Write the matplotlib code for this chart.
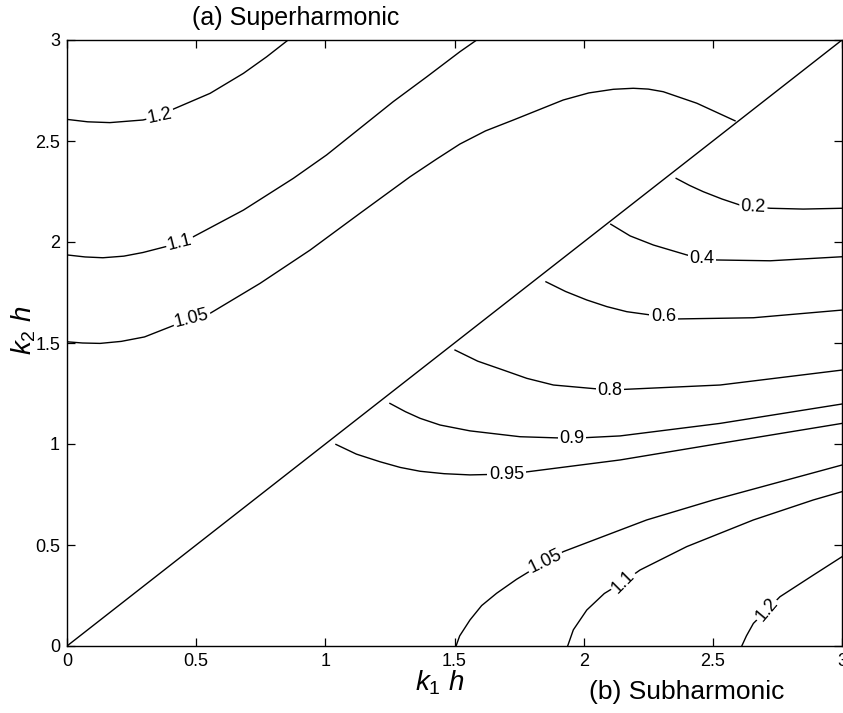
import matplotlib
matplotlib.use("Agg")
import matplotlib.pyplot as plt

plt.rcParams["font.family"] = ["Liberation Sans", "DejaVu Sans"]
plt.rcParams["mathtext.fontset"] = "custom"
plt.rcParams["mathtext.it"] = "Liberation Sans:italic"
plt.rcParams["mathtext.rm"] = "Liberation Sans"

# diagonal k1 = k2 separating the two regions
diag_x = [0, 3]
diag_y = [0, 3]

# superharmonic contours (above the diagonal)
sup_120_x = [0.0, 0.08, 0.166, 0.294, 0.36, 0.41, 0.554, 0.683, 0.773, 0.856]
sup_120_y = [2.607, 2.595, 2.591, 2.604, 2.624, 2.657, 2.736, 2.835, 2.917, 3.0]
sup_110_x = [0.0, 0.07, 0.139, 0.22, 0.294, 0.437, 0.489, 0.683, 0.876, 1.005, 1.134, 1.263, 1.393, 1.521, 1.586]
sup_110_y = [1.936, 1.926, 1.922, 1.93, 1.948, 1.995, 2.026, 2.158, 2.315, 2.431, 2.563, 2.695, 2.818, 2.942, 3.0]
sup_105_x = [0.0, 0.06, 0.128, 0.21, 0.3, 0.483, 0.554, 0.747, 0.941, 1.134, 1.328, 1.43, 1.521, 1.62,
             1.728, 1.921, 2.02, 2.115, 2.192, 2.25, 2.308, 2.438, 2.586]
sup_105_y = [1.506, 1.5, 1.498, 1.508, 1.53, 1.622, 1.647, 1.795, 1.96, 2.142, 2.323, 2.41, 2.485, 2.55,
             2.604, 2.703, 2.738, 2.756, 2.761, 2.757, 2.744, 2.687, 2.6]

# subharmonic contours (below the diagonal)
sub_020_x = [2.358, 2.41, 2.463, 2.535, 2.605, 2.657, 2.722, 2.85, 3.0]
sub_020_y = [2.315, 2.28, 2.249, 2.213, 2.183, 2.175, 2.167, 2.163, 2.167]
sub_040_x = [2.105, 2.18, 2.27, 2.399, 2.457, 2.515, 2.722, 3.0]
sub_040_y = [2.088, 2.03, 1.985, 1.936, 1.919, 1.911, 1.907, 1.927]
sub_060_x = [1.854, 1.93, 2.012, 2.09, 2.167, 2.309, 2.36, 2.657, 3.0]
sub_060_y = [1.803, 1.755, 1.713, 1.68, 1.655, 1.63, 1.619, 1.625, 1.663]
sub_080_x = [1.502, 1.59, 1.689, 1.78, 1.883, 2.102, 2.167, 2.528, 3.0]
sub_080_y = [1.465, 1.41, 1.366, 1.325, 1.292, 1.267, 1.271, 1.292, 1.366]
sub_090_x = [1.25, 1.31, 1.367, 1.444, 1.56, 1.754, 1.954, 2.141, 2.528, 3.0]
sub_090_y = [1.201, 1.16, 1.127, 1.094, 1.065, 1.036, 1.028, 1.04, 1.102, 1.198]
sub_095_x = [1.041, 1.12, 1.212, 1.29, 1.367, 1.46, 1.56, 1.702, 1.78, 2.141, 2.528, 3.0]
sub_095_y = [0.998, 0.95, 0.912, 0.884, 0.865, 0.853, 0.847, 0.851, 0.862, 0.921, 1.003, 1.102]
sub_105_x = [1.506, 1.52, 1.56, 1.605, 1.663, 1.74, 1.851, 1.921, 2.141, 2.244, 2.502, 3.0]
sub_105_y = [0.0, 0.05, 0.129, 0.2, 0.261, 0.33, 0.417, 0.467, 0.574, 0.624, 0.723, 0.896]
sub_110_x = [1.938, 1.96, 2.012, 2.08, 2.154, 2.218, 2.399, 2.657, 2.889, 3.0]
sub_110_y = [0.0, 0.08, 0.178, 0.26, 0.318, 0.376, 0.492, 0.624, 0.723, 0.764]
sub_120_x = [2.612, 2.63, 2.657, 2.709, 2.76, 2.889, 3.0]
sub_120_y = [0.0, 0.05, 0.112, 0.178, 0.244, 0.351, 0.442]

# contour labels: text, position, rotation
label_text = ["1.2", "1.1", "1.05", "0.2", "0.4", "0.6", "0.8", "0.9", "0.95", "1.05", "1.1", "1.2"]
label_x = [0.36, 0.437, 0.483, 2.657, 2.457, 2.309, 2.102, 1.954, 1.702, 1.851, 2.154, 2.709]
label_y = [2.624, 1.995, 1.622, 2.175, 1.919, 1.63, 1.267, 1.028, 0.851, 0.417, 0.318, 0.178]
label_rot = [12, 14, 14, -2, 0, 0, 0, 0, 0, 26, 45, 50]

ticks = [0, 0.5, 1, 1.5, 2, 2.5, 3]
tick_labels = ["0", "0.5", "1", "1.5", "2", "2.5", "3"]

fig = plt.figure(figsize=(8.43, 7.13), dpi=100)
ax = fig.add_axes([67 / 843, 1 - 646 / 713, 775 / 843, 606 / 713])

lines = [
    (diag_x, diag_y),
    (sup_120_x, sup_120_y), (sup_110_x, sup_110_y), (sup_105_x, sup_105_y),
    (sub_020_x, sub_020_y), (sub_040_x, sub_040_y), (sub_060_x, sub_060_y),
    (sub_080_x, sub_080_y), (sub_090_x, sub_090_y), (sub_095_x, sub_095_y),
    (sub_105_x, sub_105_y), (sub_110_x, sub_110_y), (sub_120_x, sub_120_y),
]
for xs, ys in lines:
    ax.plot(xs, ys, color="black", lw=1.0, solid_joinstyle="round")

for t, x, y, r in zip(label_text, label_x, label_y, label_rot):
    ax.text(x, y, t, fontsize=13, rotation=r, ha="center", va="center",
            rotation_mode="anchor", zorder=5,
            bbox=dict(fc="white", ec="none", pad=1.2))

ax.set_xlim(0, 3)
ax.set_ylim(0, 3)
ax.set_xticks(ticks)
ax.set_xticklabels(tick_labels)
ax.set_yticks(ticks)
ax.set_yticklabels(tick_labels)
ax.tick_params(direction="in", length=6, width=0.9, top=True, right=True,
               labelsize=13, pad=5)
for s in ax.spines.values():
    s.set_linewidth(1.0)

fig.text(0.522, 0.042, r"$k_1\ h$", fontsize=20, ha="center", va="center")
fig.text(0.028, 0.537, r"$k_2\ h$", fontsize=20, ha="center", va="center", rotation=90)
fig.text(0.351, 0.975, "(a) Superharmonic", fontsize=18, ha="center", va="center")
fig.text(0.814, 0.029, "(b) Subharmonic", fontsize=19, ha="center", va="center")

fig.savefig("out.png", dpi=100)
